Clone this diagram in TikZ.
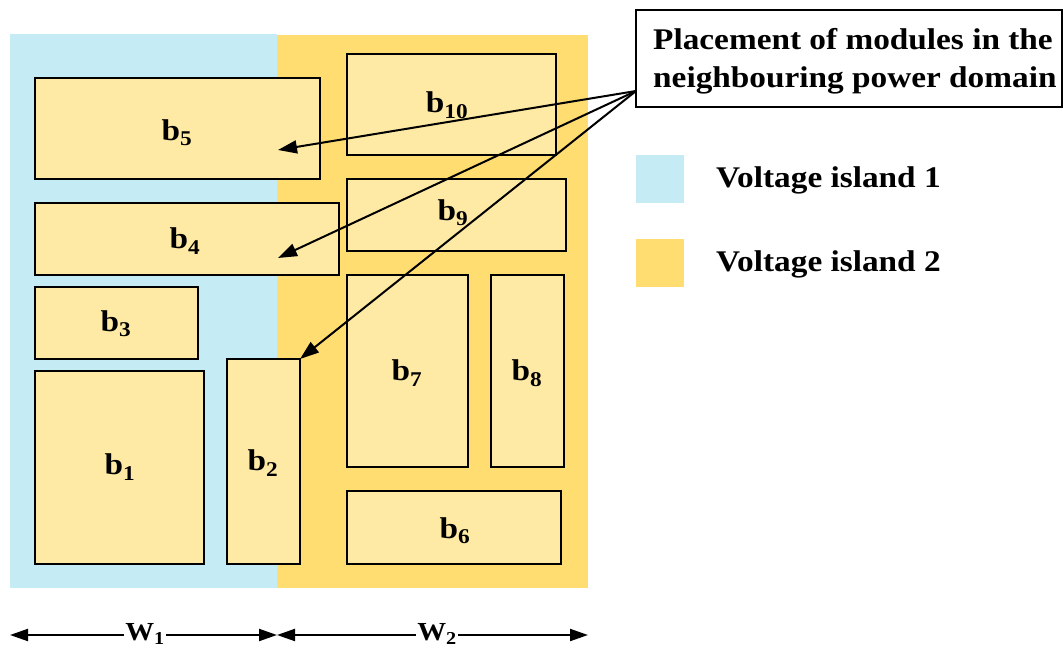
\documentclass[tikz,border=0pt]{standalone}
\usepackage{fontspec}
\setmainfont[FakeStretch=1.11]{Liberation Serif}
\usetikzlibrary{arrows.meta}
\definecolor{vione}{HTML}{C5EBF5}
\definecolor{vitwo}{HTML}{FFDD70}
\definecolor{modfill}{HTML}{FFEAA5}
\begin{document}
\begin{tikzpicture}[x=1pt,y=-1pt,
  module/.style={draw=black,line width=2pt,fill=modfill},
  blab/.style={font=\fontsize{30}{32}\selectfont\bfseries},
  wlab/.style={font=\fontsize{26}{28}\selectfont\bfseries,fill=white,inner sep=1pt},
  lab/.style={font=\fontsize{30}{38}\selectfont\bfseries,inner sep=0pt,anchor=west},
  ptr/.style={line width=2pt,-{Triangle[length=19pt,width=13pt]}},
  dim/.style={line width=2pt,{Triangle[length=18pt,width=12pt]}-{Triangle[length=18pt,width=12pt]}},
]
\useasboundingbox (0,0) rectangle (1063,650);
% regions
\fill[vione] (10,34) rectangle (277,588);
\fill[vitwo] (277,35) rectangle (588,588);
% modules
\draw[module] (35,78) rectangle (320,179);
\node[blab] (b5) at (177,133) {b\textsubscript{5}};
\draw[module] (35,203) rectangle (339,275);
\node[blab] (b4) at (185,241) {b\textsubscript{4}};
\draw[module] (35,287) rectangle (198,359);
\node[blab] (b3) at (116,324) {b\textsubscript{3}};
\draw[module] (35,371) rectangle (204,564);
\node[blab] (b1) at (120,467) {b\textsubscript{1}};
\draw[module] (227,359) rectangle (300,564);
\coordinate (b2ne) at (300,359);
\node[blab] (b2) at (263,463) {b\textsubscript{2}};
\draw[module] (347,54) rectangle (556,155);
\node[blab] (b10) at (447,105) {b\textsubscript{10}};
\draw[module] (347,179) rectangle (566,251);
\node[blab] (b9) at (453,213) {b\textsubscript{9}};
\draw[module] (347,275) rectangle (468,467);
\node[blab] (b7) at (407,373) {b\textsubscript{7}};
\draw[module] (491,275) rectangle (564,467);
\node[blab] (b8) at (527,373) {b\textsubscript{8}};
\draw[module] (347,491) rectangle (561,564);
\node[blab] (b6) at (455,531) {b\textsubscript{6}};
% callout
\draw[line width=2pt,fill=white] (636,10) rectangle (1062,107);
\node[lab,anchor=north west,align=left] (callout) at (653,28) {Placement of modules in the\\neighbouring power domain};
\coordinate (src) at (636,91);
\coordinate (t5) at (278,150);
\coordinate (t4) at (278,258);
\draw[ptr] (src) -- (t5);
\draw[ptr] (src) -- (t4);
\draw[ptr] (src) -- (b2ne);
% legend
\fill[vione] (636,155) rectangle (684,203);
\node[lab] (l1) at (716,180) {Voltage island 1};
\fill[vitwo] (636,239) rectangle (684,287);
\node[lab] (l2) at (716,264) {Voltage island 2};
% dimensions
\coordinate (d0) at (10,635);
\coordinate (d1) at (277,635);
\coordinate (d2) at (588,635);
\draw[dim] (d0) -- (d1);
\draw[dim] (d1) -- (d2);
\node[wlab] (w1) at (145,634) {W\textsubscript{1}};
\node[wlab] (w2) at (437,634) {W\textsubscript{2}};
\end{tikzpicture}
\end{document}
